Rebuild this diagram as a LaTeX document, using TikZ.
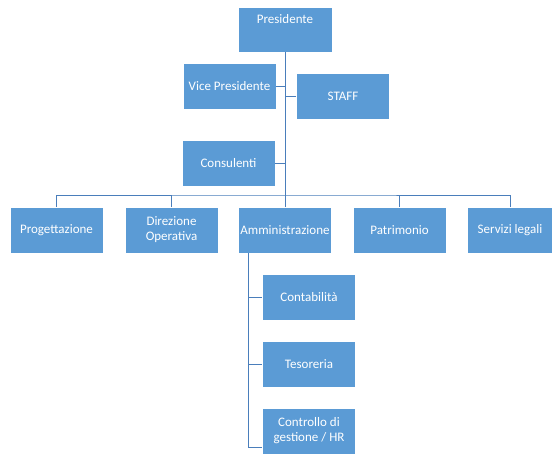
\documentclass[tikz,border=0pt]{standalone}
\usepackage{fontspec}
\setmainfont{Carlito}
\definecolor{boxblue}{HTML}{5B9BD5}
\definecolor{lineblue}{HTML}{4A7EBB}
\begin{document}
\begin{tikzpicture}[x=1pt,y=-1pt,
  box/.style={fill=boxblue,draw=white,line width=0.6pt,text=white,minimum width=93pt,minimum height=46pt,inner sep=1pt,align=center,font=\fontsize{13}{15}\selectfont},
  conn/.style={draw=lineblue,line width=1pt}]
\useasboundingbox[fill=white] (0,0) rectangle (554,455);
% top
\node[box,minimum width=94pt,minimum height=45pt] (pres) at (285,29.5) {};
\node[text=white,font=\fontsize{13}{15}\selectfont,anchor=center] (prestxt) at (285,19) {Presidente};
\node[box] (vp) at (229.5,86.5) {Vice Presidente};
\node[box] (staff) at (343,96.5) {STAFF};
\node[box] (cons) at (228.5,163) {Consulenti};
% row
\node[box] (prog) at (56.5,230) {Progettazione};
\node[box] (dir) at (171.5,230) {Direzione\\Operativa};
\node[box] (amm) at (285,230) {Amministrazione};
\node[box] (pat) at (399.5,230) {Patrimonio};
\node[box,minimum width=85pt] (serv) at (510,230) {Servizi legali};
% sub
\node[box] (cont) at (309,297) {Contabilità};
\node[box] (tes) at (309,364.5) {Tesoreria};
\node[box] (ctrl) at (309,431) {Controllo di\\gestione / HR};
% connectors
\coordinate (bar) at (285,195);
\draw[conn] (pres.south) -- (bar);
\draw[conn] (vp.east) -- (vp.east -| pres.south);
\draw[conn] (staff.west) -- (staff.west -| pres.south);
\draw[conn] (cons.east) -- (cons.east -| pres.south);
\draw[conn] (prog.north) |- (bar) -| (serv.north);
\draw[conn] (dir.north) -- (dir.north |- bar);
\draw[conn] (amm.north) -- (bar);
\draw[conn] (pat.north) -- (pat.north |- bar);
\coordinate (sub) at (248,253);
\draw[conn] (sub) |- (cont.west);
\draw[conn] (sub) |- (tes.west);
\draw[conn] (sub) |- ([yshift=-16pt]ctrl.west);
\end{tikzpicture}
\end{document}
